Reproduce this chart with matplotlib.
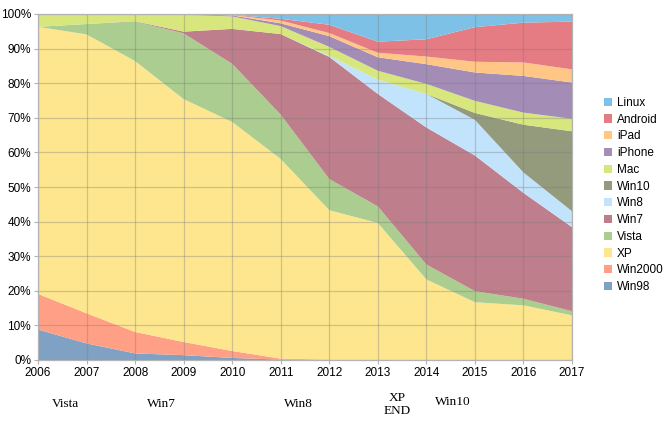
import matplotlib
matplotlib.use("Agg")
import matplotlib.pyplot as plt
from matplotlib.patches import Patch
import numpy as np

years = [2006, 2007, 2008, 2009, 2010, 2011, 2012, 2013, 2014, 2015, 2016, 2017]
series_names = ["Win98", "Win2000", "XP", "Vista", "Win7", "Win8", "Win10",
                "Mac", "iPhone", "iPad", "Android", "Linux"]
win98   = [8.8, 4.8, 1.9, 1.4, 0.6, 0.1, 0.0, 0.0, 0.0, 0.0, 0.0, 0.0]
win2000 = [10.3, 8.7, 6.2, 3.8, 2.0, 0.3, 0.1, 0.0, 0.0, 0.0, 0.0, 0.0]
xp      = [77.2, 80.6, 78.3, 70.2, 66.2, 57.7, 43.2, 39.6, 23.3, 16.7, 15.8, 12.9]
vista   = [0.0, 3.0, 11.4, 19.0, 16.8, 12.8, 9.0, 4.8, 4.3, 3.2, 1.9, 1.2]
win7    = [0.0, 0.0, 0.1, 0.5, 10.1, 23.3, 35.3, 32.5, 39.6, 39.2, 30.6, 24.3]
win8    = [0.0, 0.0, 0.0, 0.0, 0.0, 0.0, 0.3, 4.1, 9.7, 10.3, 5.9, 4.6]
win10   = [0.0, 0.0, 0.0, 0.0, 0.0, 0.0, 0.0, 0.0, 0.0, 2.0, 13.8, 23.1]
mac     = [3.7, 2.9, 2.1, 4.9, 3.6, 2.3, 2.6, 2.6, 2.9, 3.5, 3.5, 3.6]
iphone  = [0.0, 0.0, 0.0, 0.1, 0.3, 0.8, 3.1, 3.9, 5.7, 8.2, 10.6, 10.5]
ipad    = [0.0, 0.0, 0.0, 0.0, 0.1, 0.8, 0.9, 1.3, 2.2, 3.1, 3.9, 3.8]
android = [0.0, 0.0, 0.0, 0.0, 0.1, 0.5, 2.4, 3.2, 5.0, 10.0, 11.5, 13.8]
linux   = [0.0, 0.0, 0.0, 0.1, 0.2, 1.4, 3.1, 8.0, 7.3, 3.8, 2.5, 2.2]

colors = ["#7fa1c3", "#ff9f85", "#fde68e", "#abcd8f", "#bf7e8c", "#c1e3fb",
          "#949a7c", "#d7e67d", "#a38cb5", "#ffc685", "#e57c84", "#7ec1e6"]

events = ["Vista", "Win7", "Win8", "XP\nEND", "Win10"]
event_x = [2006.56, 2008.55, 2011.36, 2013.39, 2014.55]
event_y = [-0.127, -0.127, -0.127, -0.128, -0.12]

plt.rcParams['font.family'] = ['Liberation Sans', 'DejaVu Sans']

fig = plt.figure(figsize=(6.67, 4.25), dpi=100)
ax = fig.add_axes([38/667, 1-360/425, (572-38)/667, (360-14)/425])

data = [win98, win2000, xp, vista, win7, win8, win10, mac, iphone, ipad, android, linux]
ax.stackplot(years, *data, colors=colors, linewidth=0, zorder=1)

ax.set_xlim(2006, 2017)
ax.set_ylim(0, 100)
ax.set_xticks(years)
ax.set_xticklabels([str(y) for y in years])
ax.set_yticks(range(0, 101, 10))
ax.set_yticklabels([f"{v}%" for v in range(0, 101, 10)])
ax.tick_params(axis='both', labelsize=8.5, colors='#b3b3b3', labelcolor='black',
               length=3, width=0.8, pad=2)
ax.grid(True, color='#7a7a7a', alpha=0.35, linewidth=0.9, zorder=3)
ax.set_axisbelow(False)
for s in ax.spines.values():
    s.set_color('#b3b3b3')
    s.set_linewidth(0.9)
    s.set_zorder(4)

for lab, xv, yv in zip(events, event_x, event_y):
    ax.text(xv, yv, lab, transform=ax.get_xaxis_transform(), ha='center', va='center',
            fontsize=9.5, family=['Liberation Serif', 'DejaVu Serif'], linespacing=1.15)

handles = [Patch(facecolor=c, edgecolor='none') for c in colors][::-1]
labels = series_names[::-1]
fig.legend(handles, labels, loc='center left', bbox_to_anchor=(604/667, 1-195/425),
           frameon=False, fontsize=8.5, handlelength=0.7, handleheight=0.7,
           handletextpad=0.4, labelspacing=0.4, borderpad=0, borderaxespad=0)

fig.savefig("out.png", dpi=100)
